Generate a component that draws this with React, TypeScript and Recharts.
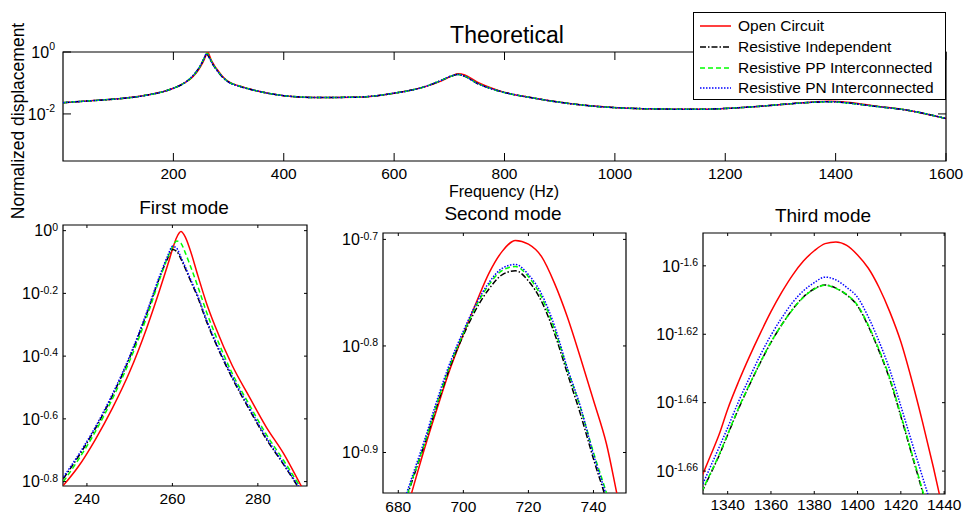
import { LineChart, Line, XAxis, YAxis, ReferenceArea, Legend } from "recharts"

const FONT = '"Liberation Sans", Arial, sans-serif'

const series = [
  { key: "open", name: "Open Circuit", color: "#ff0000", dash: undefined as string | undefined },
  { key: "indep", name: "Resistive Independent", color: "#000000", dash: "6 2 1.5 2" },
  { key: "pp", name: "Resistive PP Interconnected", color: "#00ff00", dash: "5 3" },
  { key: "pn", name: "Resistive PN Interconnected", color: "#0000ff", dash: "1.5 1.5" },
]

// full sweep, log10 of normalized displacement
const topFreq = [0, 50, 100, 150, 200, 220, 234, 242, 250, 256, 260, 262, 264, 268, 274, 282, 290, 300, 320, 350, 400, 460, 530, 600, 650, 685, 705, 716, 728, 750, 790, 850, 950, 1050, 1150, 1250, 1320, 1360, 1388, 1420, 1470, 1530, 1600]
const topOpen = [-1.635, -1.575, -1.51, -1.4, -1.17, -1.0, -0.82, -0.665, -0.45, -0.24, -0.06, 0, -0.05, -0.235, -0.43, -0.627, -0.81, -0.96, -1.1, -1.25, -1.41, -1.47, -1.46, -1.33, -1.15, -0.94, -0.77, -0.701, -0.741, -0.97, -1.25, -1.48, -1.73, -1.83, -1.85, -1.77, -1.67, -1.613, -1.593, -1.622, -1.74, -1.88, -2.15]
const topIndep = [-1.635, -1.575, -1.51, -1.4, -1.17, -1.0, -0.795, -0.63, -0.405, -0.19, -0.058, -0.09, -0.15, -0.29, -0.47, -0.665, -0.83, -0.97, -1.11, -1.25, -1.41, -1.47, -1.46, -1.33, -1.15, -0.92, -0.77, -0.7295, -0.788, -1.01, -1.26, -1.48, -1.73, -1.83, -1.85, -1.77, -1.67, -1.6223, -1.6058, -1.6436, -1.75, -1.88, -2.15]
const topPP = [-1.635, -1.575, -1.51, -1.4, -1.17, -1.0, -0.8, -0.64, -0.415, -0.195, -0.05, -0.04, -0.105, -0.26, -0.455, -0.65, -0.818, -0.965, -1.1, -1.25, -1.41, -1.47, -1.46, -1.33, -1.15, -0.92, -0.77, -0.7255, -0.784, -1.0, -1.26, -1.48, -1.73, -1.83, -1.85, -1.77, -1.67, -1.6221, -1.6056, -1.6435, -1.75, -1.88, -2.15]
const topPN = [-1.635, -1.575, -1.51, -1.4, -1.17, -1.0, -0.79, -0.625, -0.4, -0.19, -0.05, -0.085, -0.145, -0.285, -0.465, -0.66, -0.826, -0.97, -1.11, -1.25, -1.41, -1.47, -1.46, -1.33, -1.15, -0.92, -0.765, -0.7235, -0.781, -1.005, -1.26, -1.48, -1.73, -1.83, -1.85, -1.77, -1.67, -1.6203, -1.6036, -1.641, -1.75, -1.88, -2.15]

// first mode
const m1Freq = [234.5, 238, 242, 246, 250, 254, 257, 259, 260, 261, 262, 263, 264, 266, 268, 270, 274, 278, 282, 286, 290, 292]
const m1Open = [-0.812, -0.752, -0.665, -0.565, -0.45, -0.31, -0.19, -0.105, -0.06, -0.022, -0.003, -0.02, -0.055, -0.145, -0.232, -0.305, -0.43, -0.53, -0.627, -0.71, -0.81, -0.86]
const m1Indep = [-0.79, -0.72, -0.63, -0.525, -0.405, -0.265, -0.15, -0.085, -0.06, -0.066, -0.09, -0.12, -0.152, -0.215, -0.29, -0.355, -0.47, -0.57, -0.665, -0.745, -0.83, -0.875]
const m1PP = [-0.8, -0.73, -0.64, -0.535, -0.415, -0.275, -0.155, -0.082, -0.052, -0.033, -0.04, -0.07, -0.105, -0.18, -0.26, -0.33, -0.455, -0.555, -0.65, -0.732, -0.818, -0.86]
const m1PN = [-0.785, -0.715, -0.625, -0.52, -0.4, -0.26, -0.145, -0.077, -0.05, -0.056, -0.085, -0.115, -0.147, -0.21, -0.285, -0.35, -0.465, -0.565, -0.66, -0.742, -0.826, -0.87]

// second mode
const m2Freq = [676, 680, 684, 688, 692, 696, 700, 704, 708, 712, 716, 720, 724, 728, 732, 736, 740, 744, 748, 750]
const m2Open = [-1.027, -0.982, -0.939, -0.897, -0.858, -0.821, -0.789, -0.759, -0.731, -0.711, -0.701, -0.7045, -0.716, -0.741, -0.773, -0.811, -0.851, -0.892, -0.95, -0.975]
const m2Indep = [-1.003, -0.966, -0.929, -0.893, -0.855, -0.819, -0.79, -0.765, -0.746, -0.733, -0.7295, -0.739, -0.758, -0.788, -0.826, -0.864, -0.906, -0.945, -0.99, -1.01]
const m2PP = [-1.003, -0.965, -0.928, -0.892, -0.853, -0.817, -0.788, -0.762, -0.742, -0.729, -0.7255, -0.735, -0.754, -0.784, -0.822, -0.858, -0.9, -0.938, -0.98, -1.0]
const m2PN = [-1.0, -0.962, -0.925, -0.889, -0.85, -0.815, -0.786, -0.76, -0.74, -0.727, -0.7235, -0.733, -0.751, -0.781, -0.821, -0.857, -0.902, -0.941, -0.985, -1.005]

// third mode
const m3Freq = [1328, 1332, 1336, 1340, 1345, 1350, 1355, 1360, 1365, 1370, 1375, 1380, 1385, 1390, 1395, 1400, 1405, 1410, 1415, 1420, 1425, 1430, 1435, 1440]
const m3Open = [-1.6617, -1.6556, -1.6494, -1.6419, -1.6339, -1.6266, -1.6198, -1.6134, -1.6077, -1.6027, -1.5986, -1.5956, -1.5935, -1.593, -1.594, -1.5968, -1.6007, -1.6064, -1.6136, -1.6222, -1.6333, -1.6456, -1.6588, -1.673]
const m3Indep = [-1.6662, -1.6609, -1.6555, -1.6494, -1.6418, -1.6349, -1.6284, -1.6224, -1.6172, -1.6127, -1.6091, -1.6067, -1.6056, -1.6065, -1.6085, -1.6117, -1.6177, -1.625, -1.6334, -1.644, -1.655, -1.666, -1.6775, -1.6885]
const m3PP = [-1.666, -1.6607, -1.6553, -1.6492, -1.6416, -1.6348, -1.6283, -1.6223, -1.6172, -1.6128, -1.6092, -1.6068, -1.6057, -1.6066, -1.6084, -1.6115, -1.6174, -1.6246, -1.633, -1.6436, -1.6546, -1.6656, -1.677, -1.688]
const m3PN = [-1.6645, -1.6588, -1.6531, -1.6473, -1.6397, -1.6328, -1.6262, -1.6203, -1.6152, -1.6107, -1.6073, -1.6049, -1.6033, -1.6041, -1.6063, -1.6092, -1.615, -1.6222, -1.6306, -1.641, -1.6514, -1.6617, -1.672, -1.683]

const rows = (freq: number[], open: number[], indep: number[], pp: number[], pn: number[]) =>
  freq.map((f, i) => ({ f, open: open[i], indep: indep[i], pp: pp[i], pn: pn[i] }))

const topData = rows(topFreq, topOpen, topIndep, topPP, topPN)
const m1Data = rows(m1Freq, m1Open, m1Indep, m1PP, m1PN)
const m2Data = rows(m2Freq, m2Open, m2Indep, m2PP, m2PN)
const m3Data = rows(m3Freq, m3Open, m3Indep, m3PP, m3PN)

// matlab style: ticks point inward on both sides of the box
function XTick({ x, y, payload, plotH, len, gap }: any) {
  const base = y - gap
  return (
    <g>
      <line x1={x} x2={x} y1={base} y2={base - len} stroke="#000" />
      <line x1={x} x2={x} y1={base - plotH} y2={base - plotH + len} stroke="#000" />
      <text x={x} y={y} dy="0.71em" textAnchor="middle" fontSize={15.5} fontFamily={FONT} fill="#000">
        {payload.value}
      </text>
    </g>
  )
}

function YTick({ x, y, payload, plotW, len, gap, sup }: any) {
  const base = x + gap
  return (
    <g>
      <line x1={base} x2={base + len} y1={y} y2={y} stroke="#000" />
      <line x1={base + plotW - len} x2={base + plotW} y1={y} y2={y} stroke="#000" />
      <text x={x} y={y} textAnchor="end" fontSize={16} fontFamily={FONT} fill="#000">
        <tspan dy="0.36em">10</tspan>
        <tspan dy={sup} fontSize={10.5}>{String(payload.value)}</tspan>
      </text>
    </g>
  )
}

function LegendBox() {
  return (
    <div style={{ width: 251, height: 83, border: "1px solid #000", background: "#fff", fontFamily: FONT, fontSize: 15.5, paddingTop: 3, boxSizing: "content-box" }}>
      {series.map((s) => (
        <div key={s.key} style={{ display: "flex", alignItems: "center", height: 20.7, whiteSpace: "nowrap" }}>
          <svg width={44} height={10} style={{ flex: "none" }}>
            <line x1={6} x2={37} y1={5} y2={5} stroke={s.color} strokeWidth={1.5} strokeDasharray={s.dash} />
          </svg>
          <span>{s.name}</span>
        </div>
      ))}
    </div>
  )
}

function Panel({ data, left, top, width, height, margin, xh, xDomain, yDomain, xTicks, yTicks, plotW, plotH, tickLen, xGap, yGap, sup, legend }: any) {
  return (
    <div style={{ position: "absolute", left, top }}>
      <LineChart width={width} height={height} data={data} margin={margin}>
        <XAxis
          dataKey="f"
          type="number"
          domain={xDomain}
          ticks={xTicks}
          interval={0}
          allowDataOverflow
          height={xh}
          axisLine={false}
          tickLine={false}
          tickSize={0}
          tickMargin={xGap}
          tick={(p: any) => <XTick {...p} plotH={plotH} len={tickLen} gap={xGap} />}
        />
        <YAxis
          type="number"
          domain={yDomain}
          ticks={yTicks}
          interval={0}
          allowDataOverflow
          width={63}
          axisLine={false}
          tickLine={false}
          tickSize={0}
          tickMargin={yGap}
          tick={(p: any) => <YTick {...p} plotW={plotW} len={tickLen} gap={yGap} sup={sup} />}
        />
        <ReferenceArea x1={xDomain[0]} x2={xDomain[1]} y1={yDomain[0]} y2={yDomain[1]} fill="none" stroke="#000" strokeWidth={1.2} />
        {series.map((s) => (
          <Line
            key={s.key}
            type="monotone"
            dataKey={s.key}
            name={s.name}
            stroke={s.color}
            strokeWidth={1.5}
            strokeDasharray={s.dash}
            dot={false}
            activeDot={false}
            isAnimationActive={false}
          />
        ))}
        {legend && (
          <Legend
            layout="horizontal"
            verticalAlign="middle"
            align="center"
            content={() => <LegendBox />}
            wrapperStyle={{ left: 693, top: 12, width: 253, height: 86 }}
          />
        )}
      </LineChart>
    </div>
  )
}

const label = (text: string, x: number, y: number, size: number, rotate = false) => (
  <div
    style={{
      position: "absolute",
      left: x,
      top: y,
      transform: `translate(-50%, -50%)${rotate ? " rotate(-90deg)" : ""}`,
      fontSize: size,
      fontFamily: FONT,
      whiteSpace: "nowrap",
      color: "#000",
      lineHeight: 1,
    }}
  >
    {text}
  </div>
)

export default function App() {
  return (
    <div style={{ position: "absolute", left: 0, top: 0, width: 964, height: 514, background: "#fff", overflow: "hidden" }}>
      <Panel
        data={topData}
        left={0}
        top={0}
        width={964}
        height={200}
        margin={{ top: 52, right: 18, bottom: 14, left: 0 }}
        xh={25}
        xDomain={[0, 1600]}
        yDomain={[-3.52, 0]}
        xTicks={[200, 400, 600, 800, 1000, 1200, 1400, 1600]}
        yTicks={[-2, 0]}
        plotW={883}
        plotH={109}
        tickLen={8}
        xGap={7}
        yGap={8}
        sup={-8}
        legend
      />
      <Panel
        data={m1Data}
        left={0}
        top={215}
        width={320}
        height={300}
        margin={{ top: 10, right: 13, bottom: 4, left: 0 }}
        xh={25}
        xDomain={[234.4, 291.5]}
        yDomain={[-0.814, 0.018]}
        xTicks={[240, 260, 280]}
        yTicks={[-0.8, -0.6, -0.4, -0.2, 0]}
        plotW={244}
        plotH={261}
        tickLen={3}
        xGap={7}
        yGap={5}
        sup={-5.5}
      />
      <Panel
        data={m2Data}
        left={320}
        top={223}
        width={320}
        height={291}
        margin={{ top: 10, right: 14, bottom: 0, left: 0 }}
        xh={21}
        xDomain={[675.3, 750]}
        yDomain={[-0.938, -0.694]}
        xTicks={[680, 700, 720, 740]}
        yTicks={[-0.9, -0.8, -0.7]}
        plotW={243}
        plotH={260}
        tickLen={3}
        xGap={8}
        yGap={5}
        sup={-5.5}
      />
      <Panel
        data={m3Data}
        left={640}
        top={223}
        width={324}
        height={291}
        margin={{ top: 10, right: 19, bottom: 0, left: 0 }}
        xh={20}
        xDomain={[1328.6, 1440.4]}
        yDomain={[-1.6667, -1.5904]}
        xTicks={[1340, 1360, 1380, 1400, 1420, 1440]}
        yTicks={[-1.66, -1.64, -1.62, -1.6]}
        plotW={242}
        plotH={261}
        tickLen={3}
        xGap={4.5}
        yGap={5}
        sup={-5.5}
      />
      {label("Theoretical", 507, 35, 23)}
      {label("Frequency (Hz)", 504, 192, 16)}
      {label("Normalized displacement", 18.5, 121, 17.5, true)}
      {label("First mode", 184, 207, 19)}
      {label("Second mode", 503, 213, 19)}
      {label("Third mode", 823, 215, 19)}
    </div>
  )
}
